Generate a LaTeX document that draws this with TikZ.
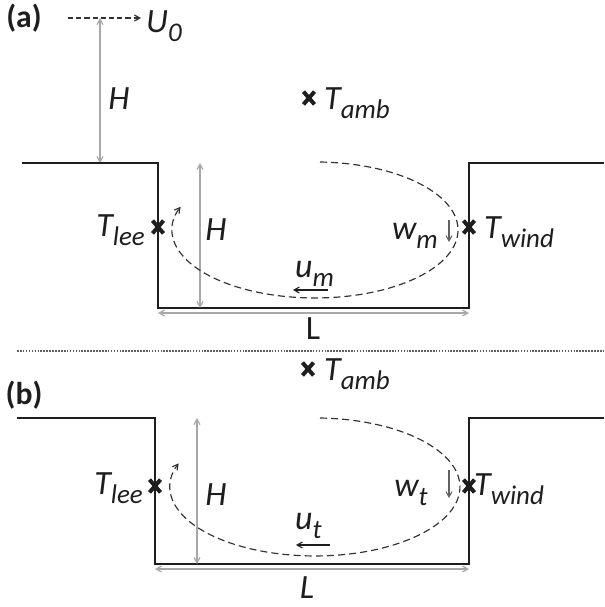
\documentclass[tikz,border=0pt]{standalone}
\usepackage{fontspec}
\setmainfont{Carlito}
\usepackage{xcolor}
\definecolor{traitNoir}{HTML}{1E1E1E}
\definecolor{traitGris}{HTML}{A8A8A8}
\definecolor{traitTiret}{HTML}{333333}
\usetikzlibrary{arrows.meta, shapes.misc}
\newcommand{\Indice}[1]{\raisebox{-8pt}{\fontsize{23}{23}\selectfont #1}}
\tikzset{
  %% ── Ground and markers ──────────────────────────────────────────────
  sol/.style        = {draw=traitNoir, line width=1.5pt, line join=miter},
  croix/.style      = {cross out, draw=traitNoir, line width=3.4pt,
                       minimum width=6pt, minimum height=7.5pt, inner sep=0pt},
  separation/.style = {draw=traitNoir!70, line width=0.9pt,
                       dash pattern=on 1.4pt off 1.1pt},
  %%
  %% ── Arrows ──────────────────────────────────────────────────────────
  cote/.style       = {{Straight Barb[length=1.6mm, width=1.8mm]}-{Straight Barb[length=1.6mm, width=1.8mm]},
                       draw=traitGris, line width=1pt},
  fleche/.style     = {-{Straight Barb[length=1.6mm, width=1.8mm]},
                       draw=traitNoir, line width=0.9pt},
  flecheTiret/.style = {-{Straight Barb[length=1.6mm, width=1.8mm]},
                       draw=traitTiret, line width=1pt,
                       dash pattern=on 6pt off 3.5pt},
  %%
  %% ── Text ────────────────────────────────────────────────────────────
  etiquette/.style  = {font=\fontsize{29}{33}\selectfont\itshape,
                       text=traitNoir, inner sep=0pt},
  titrePanneau/.style = {font=\fontsize{27}{32}\selectfont\bfseries,
                       text=traitNoir, inner sep=0pt},
}

\begin{document}
\begin{tikzpicture}[x=0.03cm, y=-0.03cm]
\useasboundingbox (0,0) rectangle (604,607);

%% panel (a)
\node[titrePanneau] (titreA) at (24,18) {(a)};

\coordinate (ventDebut) at (68,18);
\coordinate (ventFin)   at (141,18);
\node[etiquette, anchor=base west] (vitesse) at (146,32) {U\Indice{0}};
\draw[flecheTiret, dash pattern=on 4.5pt off 2.5pt] (ventDebut) -- (ventFin);

\coordinate (hautHa) at (100,18);
\coordinate (basHa)  at (100,163);
\draw[cote] (hautHa) -- (basHa);
\node[etiquette] (hauteurA) at (119,99) {H};

\coordinate (solGa)  at (22,163);
\coordinate (coinGa) at (158,163);
\coordinate (fondGa) at (158,308);
\coordinate (fondDa) at (469,308);
\coordinate (coinDa) at (469,163);
\coordinate (solDa)  at (604,163);
\draw[sol] (solGa) -- (coinGa) -- (fondGa) -- (fondDa) -- (coinDa) -- (solDa);

\node[croix] (ambA) at (309,98) {};
\node[etiquette, anchor=base west] (tAmbA) at (324,109) {T\Indice{amb}};
\node[croix] (leeA) at (158,227) {};
\node[etiquette, anchor=base east] (tLeeA) at (145,236) {T\Indice{lee}};
\node[croix] (windA) at (469,227) {};
\node[etiquette, anchor=base west] (tWindA) at (484,238) {T\Indice{wind}};

\coordinate (hautHia) at (200,163);
\coordinate (basHia)  at (200,308);
\draw[cote] (hautHia) -- (basHia);
\node[etiquette] (hauteurIa) at (216,230) {H};

\coordinate (gaucheLa) at (158,313);
\coordinate (droiteLa) at (469,313);
\draw[cote] (gaucheLa) -- (droiteLa);
\node[etiquette, font=\fontsize{29}{33}\selectfont\upshape] (largeurA) at (313,329) {L};

\coordinate (debutBoucleA) at (320,162);
\draw[flecheTiret] (debutBoucleA)
     arc[start angle=-88, end angle=200, x radius=143, y radius=68];

\node[etiquette, anchor=base east] (wA) at (438,239) {w\Indice{m}};
\coordinate (wHautA) at (449,220);
\coordinate (wBasA)  at (449,242);
\draw[fleche, draw=traitNoir!70] (wHautA) -- (wBasA);
\node[etiquette, anchor=base west] (uA) at (295,277) {u\Indice{m}};
\coordinate (uDroiteA) at (328,290);
\coordinate (uGaucheA) at (293,290);
\draw[fleche] (uDroiteA) -- (uGaucheA);

%% separation
\coordinate (sepG) at (17,351);
\coordinate (sepD) at (604,351);
\draw[separation] (sepG) -- (sepD);

%% panel (b)
\node[titrePanneau] (titreB) at (24,395) {(b)};

\node[croix] (ambB) at (308,369) {};
\node[etiquette, anchor=base west] (tAmbB) at (324,380) {T\Indice{amb}};

\coordinate (solGb)  at (17,418);
\coordinate (coinGb) at (155,418);
\coordinate (fondGb) at (155,564);
\coordinate (fondDb) at (469,564);
\coordinate (coinDb) at (469,418);
\coordinate (solDb)  at (604,418);
\draw[sol] (solGb) -- (coinGb) -- (fondGb) -- (fondDb) -- (coinDb) -- (solDb);

\node[croix] (leeB) at (155,486) {};
\node[etiquette, anchor=base east] (tLeeB) at (143,494) {T\Indice{lee}};
\node[croix] (windB) at (469,486) {};
\node[etiquette, anchor=base west] (tWindB) at (474,495) {T\Indice{wind}};

\coordinate (hautHib) at (197,418);
\coordinate (basHib)  at (197,564);
\draw[cote] (hautHib) -- (basHib);
\node[etiquette] (hauteurIb) at (216,495) {H};

\coordinate (gaucheLb) at (155,569);
\coordinate (droiteLb) at (469,569);
\draw[cote] (gaucheLb) -- (droiteLb);
\node[etiquette] (largeurB) at (307,588) {L};

\coordinate (debutBoucleB) at (320,418);
\draw[flecheTiret] (debutBoucleB)
     arc[start angle=-88, end angle=200, x radius=145, y radius=69];

\node[etiquette, anchor=base east] (wB) at (428,496) {w\Indice{t}};
\coordinate (wHautB) at (449,470);
\coordinate (wBasB)  at (449,498);
\draw[fleche, draw=traitNoir!70] (wHautB) -- (wBasB);
\node[etiquette, anchor=base west] (uB) at (295,529) {u\Indice{t}};
\coordinate (uDroiteB) at (330,545);
\coordinate (uGaucheB) at (296,545);
\draw[fleche] (uDroiteB) -- (uGaucheB);

\end{tikzpicture}
\end{document}
